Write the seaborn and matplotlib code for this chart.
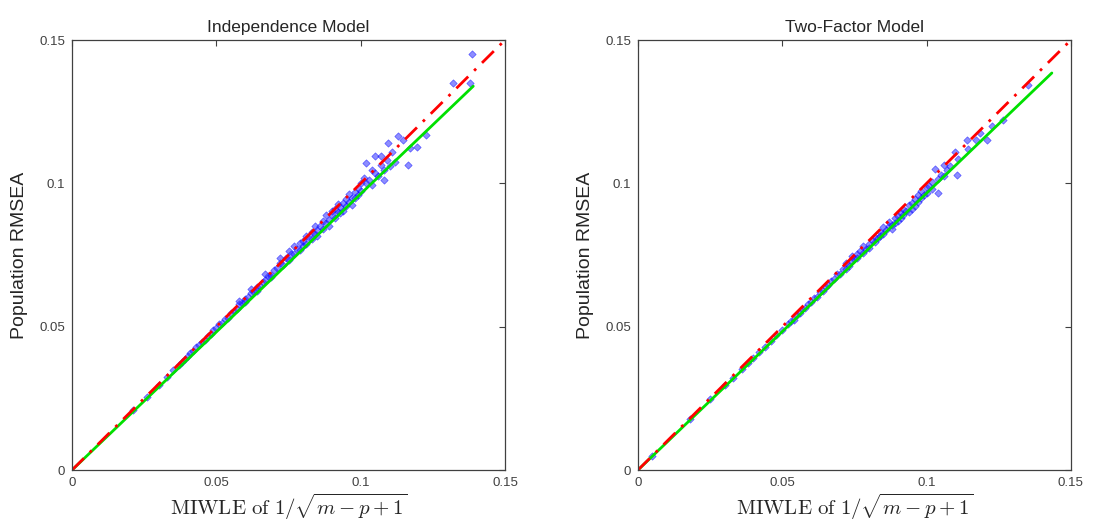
import numpy as np
import pandas as pd
import seaborn as sns
import matplotlib.pyplot as plt

# estimates
ind_x = [0.021, 0.026, 0.030, 0.033, 0.035, 0.037, 0.038, 0.039, 0.040, 0.041, 0.042, 0.043, 0.044, 0.045,
         0.046, 0.047, 0.048, 0.049, 0.050, 0.051, 0.052, 0.053, 0.054, 0.055, 0.056, 0.057, 0.058, 0.059,
         0.060, 0.061, 0.062, 0.063, 0.064, 0.065, 0.066, 0.067, 0.068, 0.069, 0.070, 0.062, 0.064, 0.067,
         0.069, 0.058, 0.060,
         0.071, 0.072, 0.072, 0.073, 0.074, 0.075, 0.075, 0.076, 0.077, 0.077, 0.078, 0.079, 0.079, 0.080,
         0.080, 0.081, 0.081, 0.082, 0.083, 0.083, 0.084, 0.084, 0.085, 0.085, 0.086, 0.087, 0.087, 0.088,
         0.088, 0.089, 0.089, 0.090, 0.090, 0.091, 0.091, 0.092, 0.092, 0.093, 0.093, 0.094, 0.094, 0.095,
         0.095, 0.096, 0.096, 0.097, 0.097, 0.098, 0.098, 0.099, 0.099, 0.100, 0.100,
         0.101, 0.102, 0.102, 0.103, 0.104, 0.104, 0.105, 0.105, 0.106, 0.107, 0.107, 0.108, 0.108, 0.109,
         0.1095, 0.110, 0.111, 0.112, 0.113, 0.1147, 0.1164, 0.117, 0.1195, 0.1226, 0.132, 0.138, 0.1385]
ind_y = [0.0210, 0.0255, 0.0296, 0.0325, 0.0348, 0.0366, 0.0378, 0.0389, 0.0396, 0.0408, 0.0416, 0.0429, 0.0436, 0.0447,
         0.0455, 0.0468, 0.0473, 0.0489, 0.0494, 0.0509, 0.0512, 0.0527, 0.0531, 0.0546, 0.0553, 0.0561, 0.0578, 0.0582,
         0.0596, 0.0602, 0.0618, 0.0620, 0.0637, 0.0641, 0.0657, 0.0663, 0.0676, 0.0680, 0.0697, 0.0630, 0.0625, 0.0685,
         0.0672, 0.0590, 0.0587,
         0.0705, 0.0722, 0.0738, 0.0715, 0.0741, 0.0733, 0.0765, 0.0752, 0.0780, 0.0755, 0.0771, 0.0793, 0.0768, 0.0800,
         0.0782, 0.0815, 0.0789, 0.0808, 0.0832, 0.0805, 0.0822, 0.0850, 0.0838, 0.0815, 0.0852, 0.0868, 0.0841, 0.0860,
         0.0889, 0.0872, 0.0850, 0.0890, 0.0905, 0.0880, 0.0912, 0.0901, 0.0928, 0.0895, 0.0918, 0.0930, 0.0905, 0.0945,
         0.0920, 0.0935, 0.0962, 0.0948, 0.0925, 0.0970, 0.0950, 0.0985, 0.0958, 0.0972, 0.1000,
         0.1020, 0.1000, 0.1070, 0.1010, 0.1045, 0.0995, 0.1035, 0.1095, 0.1025, 0.1065, 0.1095, 0.1045, 0.1010, 0.1080,
         0.1140, 0.1060, 0.1110, 0.1075, 0.1165, 0.1150, 0.1064, 0.1125, 0.1127, 0.1170, 0.1350, 0.1350, 0.1450]

two_x = [0.005, 0.018, 0.025, 0.030, 0.033, 0.036, 0.038, 0.040, 0.042, 0.044, 0.046, 0.048, 0.050, 0.052,
         0.053, 0.054, 0.055, 0.056, 0.057, 0.058, 0.059, 0.060, 0.061, 0.062, 0.063, 0.064, 0.065, 0.066,
         0.067, 0.068, 0.069, 0.070, 0.071, 0.072, 0.072, 0.073, 0.074, 0.074, 0.075, 0.076, 0.076, 0.077,
         0.078, 0.078, 0.079, 0.080, 0.080, 0.081, 0.082, 0.082, 0.083, 0.084, 0.084, 0.085, 0.085, 0.086,
         0.087, 0.087, 0.088, 0.088, 0.089, 0.089, 0.090, 0.090, 0.091, 0.091, 0.092, 0.092, 0.093, 0.094,
         0.094, 0.095, 0.095, 0.096, 0.096, 0.097, 0.097, 0.098, 0.098, 0.099, 0.100, 0.100, 0.101, 0.102,
         0.102, 0.103, 0.104, 0.104, 0.105, 0.106, 0.106, 0.107, 0.108, 0.1098, 0.1105, 0.111, 0.1143, 0.114,
         0.117, 0.1185, 0.121, 0.1226, 0.1264, 0.1351]
two_y = [0.0050, 0.0178, 0.0246, 0.0297, 0.0322, 0.0354, 0.0373, 0.0392, 0.0412, 0.0430, 0.0449, 0.0470, 0.0488, 0.0510,
         0.0521, 0.0525, 0.0541, 0.0548, 0.0560, 0.0565, 0.0580, 0.0587, 0.0601, 0.0605, 0.0622, 0.0626, 0.0640, 0.0645,
         0.0661, 0.0665, 0.0683, 0.0684, 0.0700, 0.0702, 0.0722, 0.0712, 0.0730, 0.0745, 0.0735, 0.0752, 0.0738, 0.0765,
         0.0758, 0.0780, 0.0770, 0.0790, 0.0775, 0.0802, 0.0795, 0.0812, 0.0808, 0.0830, 0.0815, 0.0825, 0.0848, 0.0838,
         0.0850, 0.0866, 0.0855, 0.0840, 0.0878, 0.0862, 0.0885, 0.0870, 0.0895, 0.0880, 0.0910, 0.0890, 0.0905, 0.0925,
         0.0900, 0.0930, 0.0912, 0.0945, 0.0920, 0.0958, 0.0935, 0.0950, 0.0975, 0.0960, 0.0985, 0.0965, 0.0990, 0.1005,
         0.0980, 0.1050, 0.0966, 0.1015, 0.1030, 0.1065, 0.1025, 0.1045, 0.1060, 0.1110, 0.1030, 0.1085, 0.1120, 0.1150,
         0.1150, 0.1175, 0.1150, 0.1200, 0.1220, 0.1343]

# identity line and fitted line endpoints
ident = [0, 0.15]
ind_fit_x = [0, 0.139]
ind_fit_y = [0, 0.1339]
two_fit_x = [0, 0.1434]
two_fit_y = [0, 0.1385]

titles = ['Independence Model', 'Two-Factor Model']
ticks = [0, 0.05, 0.1, 0.15]
tick_labels = ['0', '0.05', '0.1', '0.15']

sns.set_style('white')
plt.rcParams['font.family'] = ['Liberation Sans', 'DejaVu Sans']
plt.rcParams['mathtext.fontset'] = 'cm'

fig = plt.figure(figsize=(10.95, 5.32), dpi=100)
ax1 = fig.add_axes([0.0658, 0.1165, 0.3954, 0.8083])
ax2 = fig.add_axes([0.5826, 0.1165, 0.3954, 0.8083])

panels = [(ax1, ind_x, ind_y, ind_fit_x, ind_fit_y),
          (ax2, two_x, two_y, two_fit_x, two_fit_y)]

for (ax, xs, ys, fx, fy), title in zip(panels, titles):
    pts = pd.DataFrame({'x': xs, 'y': ys})
    sns.scatterplot(data=pts, x='x', y='y', ax=ax, marker='D', s=14,
                    color='#3030ff', edgecolor='#0000ff', linewidth=0.5, alpha=0.55)
    sns.lineplot(x=fx, y=fy, ax=ax, color='#00e000', linewidth=2)
    sns.lineplot(x=ident, y=ident, ax=ax, color='#ff0000', linewidth=2,
                 linestyle=(0, (6, 3, 1, 3)))
    ax.set_xlim(0, 0.15)
    ax.set_ylim(0, 0.15)
    ax.set_xticks(ticks)
    ax.set_yticks(ticks)
    ax.set_xticklabels(tick_labels)
    ax.set_yticklabels(tick_labels)
    ax.tick_params(direction='in', length=4, width=0.8, labelsize=9.5,
                   colors='#404040', top=True, right=True, pad=5)
    for sp in ax.spines.values():
        sp.set_color('#404040')
        sp.set_linewidth(0.9)
    ax.set_title(title, fontsize=12.5, pad=6)
    ax.set_xlabel(r'$\mathrm{MIWLE\ of\ }1/\sqrt{m-p+1}$', fontsize=15, labelpad=2)
    ax.set_ylabel('Population RMSEA', fontsize=14, labelpad=8)

plt.savefig('out.png', dpi=100)
